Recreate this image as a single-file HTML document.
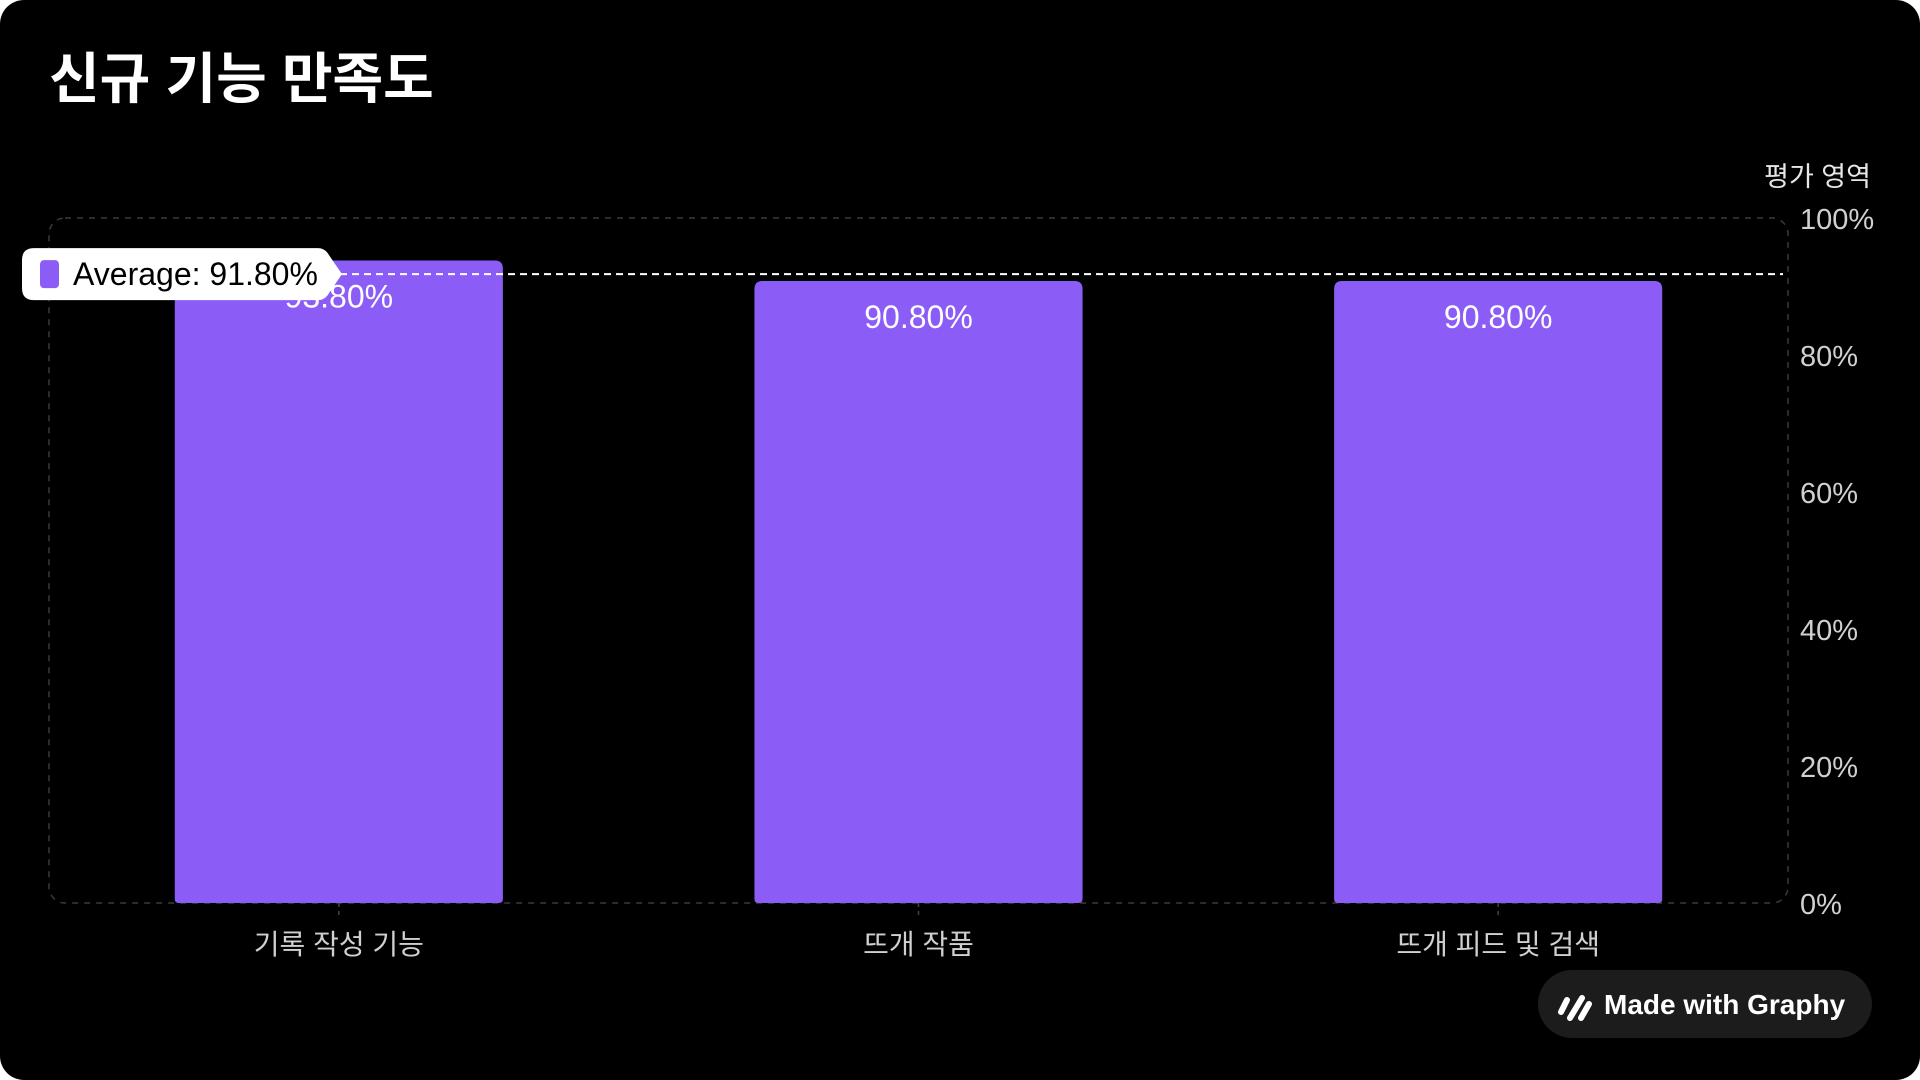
<!DOCTYPE html>
<html><head><meta charset="utf-8"><style>
html,body{margin:0;padding:0;background:#fff;width:1920px;height:1080px;overflow:hidden}
#card{position:absolute;left:0;top:0;width:1920px;height:1080px;background:#000;border-radius:24px;overflow:hidden}
text{font-family:"Liberation Sans","Noto Sans CJK KR",sans-serif}
</style></head><body>
<div id="card">
<svg id="chart" width="1920" height="1080">
<text x="49" y="98" fill="#fff" font-size="55" font-weight="bold">신규 기능 만족도</text>
<text x="1871" y="186" fill="#e6e6e6" font-size="27" text-anchor="end">평가 영역</text>
<rect x="49" y="218" width="1739" height="685" rx="16" fill="none" stroke="#3a3a3a" stroke-width="1.5" stroke-dasharray="6,6"/>
<g id="yticks"></g>
<g id="bars"></g>
<g id="avg"></g>
<g>
<rect x="1538" y="970" width="334" height="68" rx="34" fill="#1c1c1c"/>
<line x1="1561" y1="1012" x2="1567" y2="1000" stroke="#fff" stroke-width="6" stroke-linecap="round"/>
<line x1="1570" y1="1018" x2="1582" y2="998" stroke="#fff" stroke-width="6" stroke-linecap="round"/>
<line x1="1581" y1="1018" x2="1589" y2="1004" stroke="#fff" stroke-width="6" stroke-linecap="round"/>
<text x="1604" y="1014" fill="#fff" font-size="28" font-weight="bold">Made with Graphy</text>
</g>
</svg>
</div>
<script>
const categories=["기록 작성 기능","뜨개 작품","뜨개 피드 및 검색"];
const values=[93.8,90.8,90.8];
const valueLabels=["93.80%","90.80%","90.80%"];
const yTicks=[0,20,40,60,80,100];
const average=91.8;
const NS="http://www.w3.org/2000/svg";
const X0=49,X1=1788,Y0=903,Y1=218;
function y(v){return Y0-(v/100)*(Y0-Y1);}
const band=(X1-X0)/categories.length;
function xc(i){return X0+band*(i+0.5);}
const bw=band*0.566;
function mk(tag,attrs,parent,txt){const e=document.createElementNS(NS,tag);for(const k in attrs)e.setAttribute(k,attrs[k]);if(txt!==undefined)e.textContent=txt;parent.appendChild(e);return e;}
const yt=document.getElementById('yticks');
yTicks.forEach(t=>{const e=mk('text',{x:1800,y:y(t)+11,fill:'#d0d0d0','font-size':29},yt,t+'%');

});
const bg=document.getElementById('bars');
categories.forEach((c,i)=>{
const top=y(values[i]);const x=xc(i)-bw/2;
const p=mk('path',{d:`M${x},${Y0} V${top+8} Q${x},${top} ${x+8},${top} H${x+bw-8} Q${x+bw},${top} ${x+bw},${top+8} V${Y0-4} Q${x+bw},${Y0} ${x+bw-4},${Y0} H${x+4} Q${x},${Y0} ${x},${Y0-4}Z`,fill:'#8b5cf6'},bg);


const vl=mk('text',{x:xc(i),y:top+47,fill:'#fff','font-size':32,'text-anchor':'middle'},bg,valueLabels[i]);


const tk=mk('line',{x1:xc(i),x2:xc(i),y1:Y0,y2:Y0+16,stroke:'#444','stroke-dasharray':'4,4','stroke-width':1.5},bg);


const cl=mk('text',{x:xc(i),y:954,fill:'#d0d0d0','font-size':28,'text-anchor':'middle'},bg,c);


});
const ag=document.getElementById('avg');
const ay=y(average);
const al=mk('line',{x1:340,x2:X1-5,y1:ay,y2:ay,stroke:'#fff','stroke-width':2,'stroke-dasharray':'7,5'},ag);


const tip=mk('path',{d:`M34,${ay-26} H318 Q325,${ay-26} 329,${ay-19} L342,${ay} L329,${ay+19} Q325,${ay+26} 318,${ay+26} H34 Q22,${ay+26} 22,${ay+14} V${ay-14} Q22,${ay-26} 34,${ay-26}Z`,fill:'#fff'},ag);


const sw=mk('rect',{x:40,y:ay-14,width:19,height:28,rx:4,fill:'#8b5cf6'},ag);


const at=mk('text',{x:73,y:ay+11,fill:'#000','font-size':32},ag,'Average: '+average.toFixed(2)+'%');


</script>
</body></html>
